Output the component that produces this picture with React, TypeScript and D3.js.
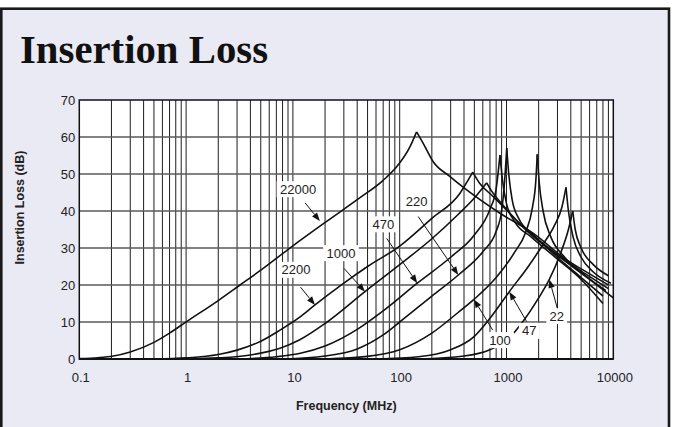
import React from "react";
import * as d3 from "d3";

// ---------- data ----------
const X_TICKS = [0.1, 1, 10, 100, 1000, 10000];
const X_TICK_LABELS = ["0.1", "1", "10", "100", "1000", "10000"];
const Y_TICKS = [0, 10, 20, 30, 40, 50, 60, 70];
const SERIES_NAMES = ["22000", "2200", "1000", "470", "220", "100", "47", "22"];

// [frequency MHz, insertion loss dB]
const S22000: [number, number][] = [
  [0.1, 0.1], [0.15, 0.35], [0.208, 0.8], [0.3, 1.9], [0.5, 4.5], [0.7, 7], [1.01, 10.1],
  [2, 15.8], [3.2, 20], [5, 24], [10, 30.6], [20.7, 37.2], [42.5, 43.6], [70, 48.3], [94, 52],
  [125, 57.4], [144, 61.4], [166, 58.3], [206, 53.3], [296, 49.3], [424, 45.7], [869, 39.4],
  [1770, 34], [3664, 26.8], [6000, 23], [9000, 20],
];
const S2200: [number, number][] = [
  [0.5, 0], [1, 0.3], [2, 1.2], [3, 2.4], [5, 4.8], [7.57, 7.8], [11.6, 11.3], [16.1, 14.6],
  [30, 20.5], [50, 25], [100, 30.5], [200, 38], [367, 44.8], [430, 48], [483, 50.5],
  [560, 47.5], [752, 43.9], [1545, 34.9], [3170, 27.7], [5500, 23], [9000, 19],
];
const S1000: [number, number][] = [
  [1, 0], [2, 0.3], [4, 1.1], [7.57, 2.9], [11.6, 5.2], [20, 9.6], [47.3, 18.2], [100, 25.5],
  [200, 32.5], [350, 39], [500, 43.5], [600, 46.3], [653, 47.6],
  [720, 45.5], [900, 42], [1500, 35], [3000, 28], [6000, 21.5], [10000, 16.5],
];
const S470: [number, number][] = [
  [3, 0], [7, 0.6], [12, 1.6], [20, 3.5], [40, 8], [70, 13], [146, 20.5], [300, 27.5],
  [500, 33.5], [700, 40.5], [800, 46], [869, 55.1],
  [920, 48], [1000, 42], [1200, 37], [1700, 33], [3000, 27], [5000, 21.5], [8000, 15],
];
const S220: [number, number][] = [
  [8, 0], [20, 0.8], [40, 2.7], [70, 6.5], [100, 10], [200, 17], [354, 22.7], [600, 29],
  [800, 34.5], [900, 40], [960, 48], [1005, 57],
  [1050, 50], [1130, 43], [1300, 38], [1800, 33.5], [3000, 27.5], [5000, 22], [8000, 17],
];
const S100: [number, number][] = [
  [20, 0], [50, 0.7], [100, 2.5], [200, 7], [350, 12.5], [496, 16.1], [800, 22], [1200, 29],
  [1500, 34], [1750, 41], [1880, 48], [1941, 55.3],
  [2020, 48], [2200, 40], [2600, 33], [3500, 27.5], [5500, 22.5], [8500, 18.5],
];
const S47: [number, number][] = [
  [60, 0], [150, 0.6], [300, 2.5], [494, 6], [700, 11], [1062, 18.2], [1600, 25], [2200, 31],
  [2800, 36], [3300, 41], [3606, 46.4],
  [3800, 40], [4200, 33], [5000, 27.5], [6500, 23.5], [9500, 20.5],
];
const S22: [number, number][] = [
  [150, 0], [400, 0.8], [700, 2.5], [1000, 5], [1500, 11], [2000, 16.5], [2518, 21.5],
  [3200, 28.5], [3800, 35], [4169, 40],
  [4400, 35], [5000, 30], [6500, 25.5], [9000, 22.5],
];
const SERIES = [S22000, S2200, S1000, S470, S220, S100, S47, S22];

// annotation label centre, arrow tail, arrow tip (data units: MHz, dB)
const ANN_LABEL: [number, number][] = [
  [11.2, 45.9], [10.7, 24.1], [28.2, 28.6], [70.2, 36.4], [144, 42.5], [869, 5.1], [1633, 7.6], [2951, 11.6],
];
const ANN_TAIL: [number, number][] = [
  [13.0, 42.2], [11.8, 19.4], [30.1, 24.5], [75.5, 32.6], [149, 38.5], [743, 7.8], [1545, 10.1], [2993, 13.7],
];
const ANN_TIP: [number, number][] = [
  [17.9, 37.3], [16.1, 14.6], [47.3, 18.2], [146, 20.5], [354, 22.7], [496, 16.1], [1062, 18.2], [2518, 21.5],
];

// ---------- chart ----------
const W = 675;
const H = 427;
const L = 79.3, R = 613.3, T = 100, B = 359;

export default function App() {
  const x = d3.scaleLog().domain([0.1, 10000]).range([L, R]);
  const y = d3.scaleLinear().domain([0, 70]).range([B, T]);
  const line = d3
    .line<[number, number]>()
    .x((d) => x(d[0]))
    .y((d) => y(d[1]))
    .curve(d3.curveMonotoneX);

  const vgrid: number[] = [];
  for (const dec of [0.1, 1, 10, 100, 1000]) {
    for (let k = 1; k <= 9; k++) {
      const v = dec * k;
      if (v > 0.1) vgrid.push(v);
    }
  }

  const sans = "'Liberation Sans', Arial, Helvetica, sans-serif";

  return (
    <svg
      width={W}
      height={H}
      style={{ position: "absolute", left: 0, top: 0 }}
      xmlns="http://www.w3.org/2000/svg"
    >
      <rect x={0} y={0} width={W} height={H} fill="#ffffff" />
      <rect x={1.3} y={8.7} width={667.7} height={440} fill="#eaeaf4" stroke="#1a1a1a" strokeWidth={2.6} />
      <text
        x={20}
        y={63}
        fontFamily="'Liberation Serif', 'Times New Roman', serif"
        fontWeight="bold"
        fontSize={40}
        textLength={248}
        lengthAdjust="spacingAndGlyphs"
        fill="#111"
      >
        Insertion Loss
      </text>

      {/* plot background */}
      <rect x={L} y={T} width={R - L} height={B - T} fill="#ffffff" />

      {/* vertical grid */}
      {vgrid.map((v, i) => (
        <line key={"v" + i} x1={x(v)} x2={x(v)} y1={T} y2={B} stroke="#1e1e1e" strokeWidth={1} />
      ))}
      {/* horizontal grid */}
      {Y_TICKS.filter((t) => t > 0 && t < 70).map((t) => (
        <line key={"h" + t} x1={L} x2={R} y1={y(t)} y2={y(t)} stroke="#5a5a5a" strokeWidth={1.3} />
      ))}

      {/* curves */}
      {SERIES.map((s, i) => {
        let pk = 0;
        s.forEach((d, j) => {
          if (d[1] > s[pk][1]) pk = j;
        });
        const rise = s.slice(0, pk + 1);
        const fall = s.slice(pk);
        return (
          <g key={SERIES_NAMES[i]} fill="none" stroke="#111" strokeWidth={1.6} strokeLinejoin="round">
            <path d={line(rise) || ""} />
            <path d={line(fall) || ""} />
          </g>
        );
      })}

      {/* annotations */}
      {SERIES_NAMES.map((name, i) => {
        const [lx, ly] = [x(ANN_LABEL[i][0]), y(ANN_LABEL[i][1])];
        const [tx0, ty0] = [x(ANN_TAIL[i][0]), y(ANN_TAIL[i][1])];
        const [tx1, ty1] = [x(ANN_TIP[i][0]), y(ANN_TIP[i][1])];
        const ang = Math.atan2(ty1 - ty0, tx1 - tx0);
        const hl = 8.5, hw = 3.2;
        const bx = tx1 - hl * Math.cos(ang), by = ty1 - hl * Math.sin(ang);
        const p1 = [bx + hw * Math.sin(ang), by - hw * Math.cos(ang)];
        const p2 = [bx - hw * Math.sin(ang), by + hw * Math.cos(ang)];
        const bw = name.length * 7.4 + 6;
        return (
          <g key={"a" + name}>
            <rect x={lx - bw / 2} y={ly - 8} width={bw} height={16} fill="#ffffff" />
            <text x={lx} y={ly + 4.6} textAnchor="middle" fontFamily={sans} fontSize={13} fill="#222">
              {name}
            </text>
            <line x1={tx0} y1={ty0} x2={bx} y2={by} stroke="#111" strokeWidth={1} />
            <polygon points={`${tx1},${ty1} ${p1[0]},${p1[1]} ${p2[0]},${p2[1]}`} fill="#111" />
          </g>
        );
      })}

      {/* plot border */}
      <rect x={L} y={T} width={R - L} height={B - T} fill="none" stroke="#111" strokeWidth={1.5} />
      <line x1={L} x2={R} y1={B} y2={B} stroke="#111" strokeWidth={2.2} />

      {/* y ticks */}
      {Y_TICKS.map((t) => (
        <text key={"yt" + t} x={L - 4} y={y(t) + 4.6} textAnchor="end" fontFamily={sans} fontSize={13} fill="#222">
          {t}
        </text>
      ))}
      {/* x ticks */}
      {X_TICKS.map((t, i) => (
        <text key={"xt" + t} x={x(t) + 1.5} y={382} textAnchor="middle" fontFamily={sans} fontSize={13} fill="#222">
          {X_TICK_LABELS[i]}
        </text>
      ))}

      <text x={(L + R) / 2} y={410} textAnchor="middle" fontFamily={sans} fontSize={12.5} fontWeight="bold" fill="#222">
        Frequency (MHz)
      </text>
      <text
        transform={`translate(24, ${(T + B) / 2 - 22}) rotate(-90)`}
        textAnchor="middle"
        fontFamily={sans}
        fontSize={12.5}
        fontWeight="bold"
        fill="#222"
      >
        Insertion Loss (dB)
      </text>
    </svg>
  );
}
